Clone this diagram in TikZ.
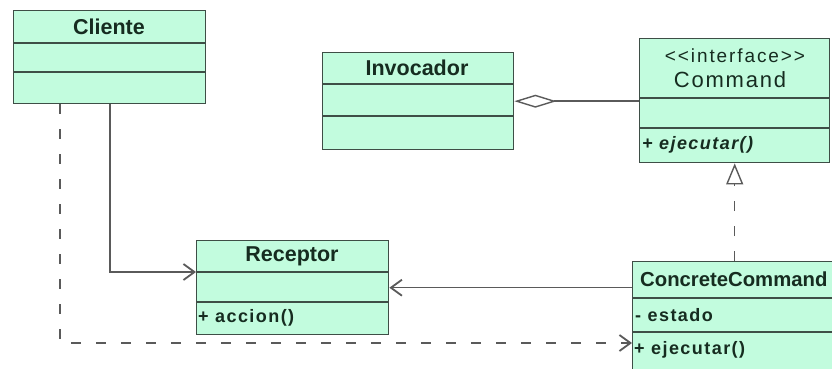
\documentclass[tikz,border=0pt]{standalone}
\usepackage{fontspec}
\setmainfont{Liberation Sans}
\newfontfamily\memfont[LetterSpace=8]{Liberation Sans}
\newfontfamily\stfont[LetterSpace=10]{Liberation Sans}
\newfontfamily\cmdfont[LetterSpace=8]{Liberation Sans}
\usetikzlibrary{arrows.meta,calc}
\definecolor{umlfill}{RGB}{194,252,222}
\definecolor{umlborder}{RGB}{62,78,70}
\definecolor{umltext}{RGB}{22,44,32}
\definecolor{umlline}{RGB}{90,90,90}
\tikzset{
  classbox/.style={draw=umlborder, line width=1.4pt, fill=umlfill, rectangle, anchor=north west, inner sep=0pt},
  divider/.style={draw=umlborder, line width=1.4pt},
  titletext/.style={text=umltext, font=\fontsize{21.5}{23}\selectfont\bfseries, inner sep=0pt},
  sttext/.style={text=umltext, font=\stfont\fontsize{19}{21}\selectfont, inner sep=0pt},
  cmdtext/.style={text=umltext, font=\cmdfont\fontsize{22}{24}\selectfont, inner sep=0pt},
  memtext/.style={text=umltext, font=\memfont\fontsize{18}{20}\selectfont\bfseries, inner sep=0pt, anchor=west},
  conn/.style={draw=umlline, line width=1.5pt},
  openarrow/.style={-{Straight Barb[length=11pt,width=16pt,line width=1.8pt]}},
  dashline/.style={dash pattern=on 10pt off 15pt},
}
\begin{document}
\begin{tikzpicture}[x=1pt,y=-1pt]
\useasboundingbox (0,0) rectangle (832,368);
\clip (0,0) rectangle (832,368);
\fill[white] (0,0) rectangle (832,368);

% Cliente
\node[classbox, minimum width=192pt, minimum height=93pt] (cliente) at (13,10) {};
\draw[divider] (13,43) -- (205,43);
\draw[divider] (13,72) -- (205,72);
\node[titletext] (clienteT) at (109,27) {Cliente};

% Invocador
\node[classbox, minimum width=191pt, minimum height=97pt] (invocador) at (322,52) {};
\draw[divider] (322,84) -- (513,84);
\draw[divider] (322,116) -- (513,116);
\node[titletext] (invocadorT) at (417,68) {Invocador};

% Command
\node[classbox, minimum width=190pt, minimum height=124pt] (command) at (639,38) {};
\draw[divider] (639,98) -- (829,98);
\draw[divider] (639,128) -- (829,128);
\node[sttext] (commandS) at (735,56) {<{}<interface>{}>};
\node[cmdtext] (commandT) at (730,80) {Command};
\node[memtext] (commandM) at (642,145) {\itshape + ejecutar()};

% Receptor
\node[classbox, minimum width=192pt, minimum height=94pt] (receptor) at (196,240) {};
\coordinate (recd1) at (196,272);
\draw[divider] (recd1) -- (388,272);
\draw[divider] (196,302) -- (388,302);
\node[titletext] (receptorT) at (292,256) {Receptor};
\node[memtext] (receptorM) at (198,318) {+ accion()};

% ConcreteCommand
\node[classbox, minimum width=214pt, minimum height=120pt] (cc) at (632,261) {};
\draw[divider] (632,298) -- (846,298);
\draw[divider] (632,332) -- (846,332);
\coordinate (ccop) at (632,343);
\node[titletext, font=\fontsize{20.3}{22}\selectfont\bfseries, anchor=west] (ccT) at (640,279.5) {ConcreteCommand};
\node[memtext] (ccA) at (635,315) {- estado};
\node[memtext] (ccM) at (634,350) {+ ejecutar()};

% connectors
\draw[conn, openarrow] ($(cliente.south west)+(97,0)$) |- (recd1);
\draw[conn, openarrow, dashline] ($(cliente.south west)+(47,0)$) |- (ccop);
\draw[conn, openarrow] (receptor.east -| cc.west) -- (receptor.east);
\draw[conn, {Diamond[open,length=42pt,width=13pt,line width=1.4pt]}-] (invocador.east) -- (invocador.east -| command.west);
\draw[conn, dashline, -{Triangle[open,length=21pt,width=17pt,line width=1.4pt]}] (command.south |- cc.north) -- (command.south);
\end{tikzpicture}
\end{document}
